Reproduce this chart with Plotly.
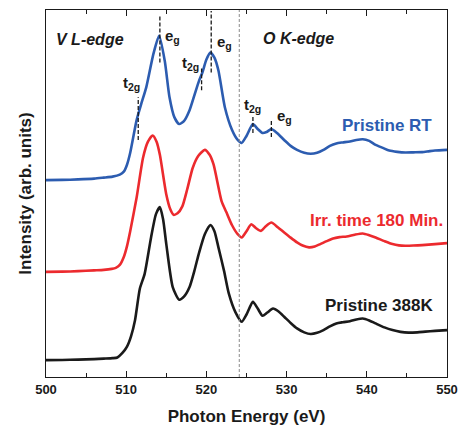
import plotly.graph_objects as go

# ---------------- data (stacked intensities, arb. units) ----------------
energy_rt = [500, 502, 504, 506, 507.2, 508.3, 509.2, 509.7, 510.1, 510.5, 511.3, 511.9, 512.5,
             513.4, 514.1, 514.8, 515.4, 516.0, 516.6, 517.2, 517.9, 518.5, 519.1, 519.5, 520.0,
             520.5, 521.0, 521.5, 522.3, 523.2, 523.9, 524.4, 525.0, 525.8, 526.4, 527.0, 527.5,
             528.1, 528.8, 529.7, 530.5, 531.3, 532.2, 533.0, 533.8, 534.6, 535.4, 536.2, 537.0,
             537.9, 538.7, 539.5, 540.3, 541.1, 542.0, 542.8, 543.8, 544.8, 545.8, 546.9, 547.7,
             548.5, 550]
intensity_rt = [198.5, 198.7, 199.2, 200, 201, 202, 204, 207, 214, 226, 259, 276, 292,
                326, 344, 319, 282, 262, 255, 258, 269, 284, 299, 307, 320,
                327, 322, 309, 272, 249, 239, 236, 243, 255, 250, 246, 247,
                250, 246, 239, 233, 229, 226, 225, 226, 229, 233, 235.5, 236.5,
                237.5, 239, 239.7, 238, 234, 231, 228.3, 227, 226.3, 226.5, 226.7, 227.5,
                228.3, 229]

energy_irr = [500, 502, 504, 506, 507.2, 508.2, 508.7, 509.2, 509.7, 510.1, 510.5, 511.3, 512.1,
              512.7, 513.3, 513.8, 514.2, 515.0, 515.5, 515.9, 516.4, 517.0, 517.6, 518.3, 519.0,
              519.8, 520.4, 520.9, 521.9, 522.5, 523.2, 523.9, 524.4, 525.0, 525.6, 526.2, 526.8,
              527.4, 528.1, 528.9, 529.7, 530.5, 531.3, 532.0, 532.8, 533.5, 534.2, 535.0, 535.8,
              536.6, 537.5, 538.5, 539.5, 540.3, 541.1, 542.2, 543.2, 544.0, 544.8, 545.8, 546.9,
              548.5, 550]
intensity_irr = [106, 106.2, 106.7, 107.5, 108, 109, 110, 113, 121, 132, 147, 181, 221,
                 237, 243.5, 237, 224, 184, 169, 163.5, 165, 172, 189, 211, 223,
                 229, 224, 214, 177, 166, 153, 144, 140.7, 147, 154, 150, 147.3,
                 152, 155.7, 151, 145.7, 140.5, 135.7, 132.5, 130.7, 131.5, 134, 137, 139.7,
                 141, 141.7, 143.5, 144.7, 143, 140.7, 137, 134, 132.7, 132.3, 132.5, 133,
                 134, 135]

energy_388 = [500, 502, 504, 506, 507.2, 508.3, 508.9, 509.5, 510.1, 510.6, 511.1, 511.7, 512.3,
              513.1, 513.7, 514.2, 514.6, 515.0, 515.8, 516.6, 517.2, 517.9, 518.5, 519.1, 519.8,
              520.5, 521.0, 521.5, 522.2, 522.8, 523.6, 524.4, 525.0, 525.8, 526.4, 527.0, 527.6,
              528.3, 529.0, 529.7, 530.5, 531.3, 532.2, 533.0, 533.8, 534.6, 535.4, 536.2, 537.0,
              537.9, 538.7, 539.5, 540.3, 541.1, 542.2, 543.2, 544.2, 545.2, 546.3, 547.3, 548.5,
              550]
intensity_388 = [17, 17.2, 17.5, 18, 18.5, 19, 19.7, 24, 30.7, 41, 57.3, 89, 104,
                 140.7, 164, 171.3, 159, 134, 90.7, 78, 81, 90.7, 107, 125.7, 144,
                 153.3, 147, 130.7, 107, 84, 65.7, 55.7, 63, 75.7, 69, 61.7, 65,
                 69, 66, 60.7, 54.5, 49, 45, 43.3, 44.5, 47.3, 51, 54, 55.2,
                 56.3, 58, 59, 57, 54, 50, 47.3, 45.5, 44.7, 45, 45.7, 46.5,
                 47.3]

series_names = ["Pristine RT", "Irr. time 180 Min.", "Pristine 388K"]
series_colors = ["#2c5cb0", "#ec2a2e", "#1a1a1a"]
series_label_x = [542.5, 541.2, 541.5]
series_label_y = [254, 158, 72.5]

# crystal-field markers: energy, y-start, y-end, label, label x, label y
marker_energy = [511.5, 514.2, 519.4, 520.6, 525.8, 528.1]
marker_y0 = [239, 317, 289, 307, 246, 242]
marker_y1 = [282, 364, 311, 369, 262, 258]
marker_text = ["t<sub>2g</sub>", "e<sub>g</sub>", "t<sub>2g</sub>", "e<sub>g</sub>",
               "t<sub>2g</sub>", "e<sub>g</sub>"]
marker_label_x = [510.6, 515.75, 518.0, 522.25, 525.8, 529.7]
marker_label_y = [295.5, 343, 316.5, 337, 274, 262.5]

edge_text = ["V L-edge", "O K-edge"]
edge_x = [505.5, 531.5]
edge_y = [340.5, 341]
edge_boundary = 524.1

x_range = [500, 550]
y_range = [0, 370]

FONT = "Arial, Liberation Sans, sans-serif"

fig = go.Figure()
for e, i, c, n in zip([energy_rt, energy_irr, energy_388],
                      [intensity_rt, intensity_irr, intensity_388],
                      series_colors, series_names):
    fig.add_trace(go.Scatter(x=e, y=i, mode="lines", name=n,
                             line=dict(color=c, width=2.6, shape="spline", smoothing=0.6),
                             showlegend=False))

shapes = [dict(type="line", xref="x", yref="paper", x0=edge_boundary, x1=edge_boundary,
               y0=0, y1=1, line=dict(color="#8a8a8a", width=1, dash="3px,2px"))]
for xe, y0, y1 in zip(marker_energy, marker_y0, marker_y1):
    shapes.append(dict(type="line", xref="x", yref="y", x0=xe, x1=xe, y0=y0, y1=y1,
                       line=dict(color="#1a1a1a", width=1.3, dash="4px,2px")))

annotations = []
for t, x, y in zip(edge_text, edge_x, edge_y):
    annotations.append(dict(text=f"<b><i>{t}</i></b>", x=x, y=y, xref="x", yref="y",
                            showarrow=False, font=dict(family=FONT, size=16, color="#1a1a1a")))
for t, x, y in zip(marker_text, marker_label_x, marker_label_y):
    annotations.append(dict(text=f"<b>{t}</b>", x=x, y=y, xref="x", yref="y", showarrow=False,
                            font=dict(family=FONT, size=15, color="#1a1a1a")))
for t, x, y, c in zip(series_names, series_label_x, series_label_y, series_colors):
    annotations.append(dict(text=f"<b>{t}</b>", x=x, y=y, xref="x", yref="y", showarrow=False,
                            font=dict(family=FONT, size=17, color=c)))

fig.update_layout(
    width=467, height=432,
    margin=dict(l=46, r=13, t=9, b=53),
    paper_bgcolor="white", plot_bgcolor="white",
    font=dict(family=FONT, color="#1a1a1a"),
    shapes=shapes, annotations=annotations,
    xaxis=dict(range=x_range, dtick=10, tick0=500, ticks="inside", ticklen=6, tickwidth=1.3,
               tickcolor="#1a1a1a", showline=True, linecolor="#1a1a1a", linewidth=1.3,
               mirror="ticks", showgrid=False, zeroline=False,
               minor=dict(dtick=5, ticks="inside", ticklen=3.5, tickwidth=1.3, tickcolor="#1a1a1a"),
               tickfont=dict(family=FONT, size=13, weight="bold", color="#1a1a1a"),
               title=dict(text="<b>Photon Energy (eV)</b>", font=dict(family=FONT, size=17),
                          standoff=14)),
    yaxis=dict(range=y_range, showticklabels=False, ticks="", showline=True,
               linecolor="#1a1a1a", linewidth=1.3, mirror=True, showgrid=False, zeroline=False,
               title=dict(text="<b>Intensity (arb. units)</b>", font=dict(family=FONT, size=17),
                          standoff=8)),
)

fig.write_html("out.html")
